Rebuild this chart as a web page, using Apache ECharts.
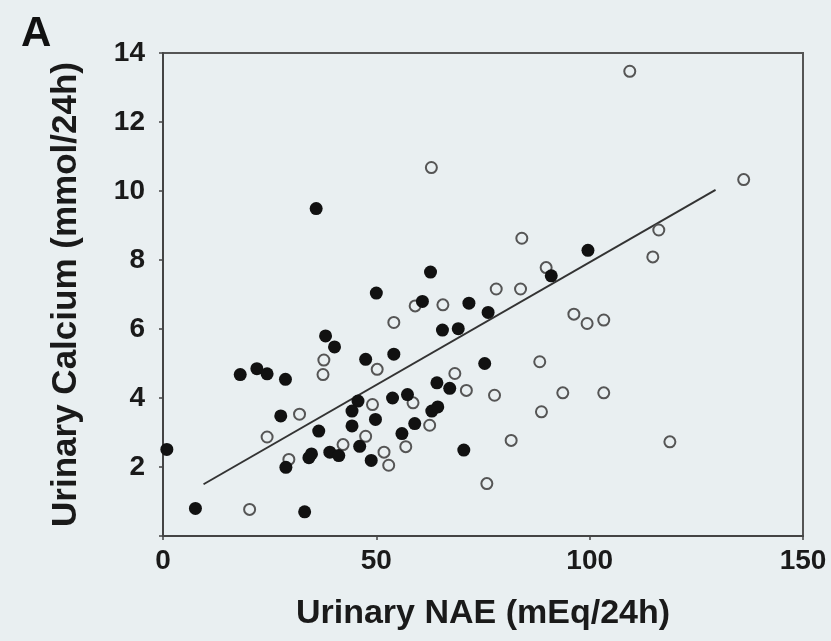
<!DOCTYPE html>
<html>
<head>
<meta charset="utf-8">
<script src="https://cdn.jsdelivr.net/npm/echarts@6/dist/echarts.min.js"></script>
<style>
html,body{margin:0;padding:0;background:#e9eff1;}
#chart{width:831px;height:641px;}
</style>
</head>
<body>
<div id="chart"></div>
<script>
// Filled circles: [Urinary NAE, Urinary Calcium]
const filledPoints = [
  [50.0,7.04],[60.8,6.80],[71.7,6.75],[76.2,6.48],[65.5,5.97],[69.2,6.01],[38.1,5.80],[40.2,5.48],
  [47.5,5.12],[54.1,5.27],[75.4,5.00],[18.1,4.68],[22.0,4.85],[24.4,4.70],[28.7,4.54],[64.2,4.44],
  [67.2,4.28],[45.7,3.91],[44.3,3.62],[53.8,4.00],[57.3,4.10],[63.0,3.62],[64.4,3.74],[27.6,3.48],
  [49.8,3.38],[44.3,3.19],[36.5,3.04],[59.0,3.26],[56.0,2.97],[46.1,2.60],[70.5,2.49],[0.9,2.51],
  [34.8,2.38],[34.2,2.27],[39.1,2.43],[41.2,2.33],[48.8,2.19],[28.8,1.99],[7.6,0.80],[33.2,0.70],
  [35.9,9.49],[62.7,7.65],[99.6,8.28],[91.0,7.54]
];
// Open circles
const openPoints = [
  [109.4,13.47],[62.9,10.68],[136.1,10.33],[116.2,8.87],[84.1,8.63],[114.8,8.09],[89.8,7.78],
  [78.1,7.16],[83.8,7.16],[59.1,6.67],[65.6,6.70],[96.3,6.43],[99.4,6.16],[103.3,6.26],[54.1,6.19],
  [37.7,5.10],[37.5,4.68],[50.2,4.83],[68.4,4.71],[71.1,4.22],[88.3,5.05],[49.1,3.81],[58.6,3.86],
  [77.7,4.08],[93.7,4.15],[103.3,4.15],[88.7,3.60],[32.0,3.53],[62.5,3.21],[24.4,2.87],[47.5,2.89],
  [42.2,2.65],[56.9,2.59],[51.8,2.43],[52.9,2.05],[29.5,2.22],[81.6,2.77],[118.8,2.73],[75.9,1.52],
  [20.3,0.77]
];
// Regression line endpoints
const regX = [9.5, 129.5];
const regY = [1.50, 10.03];

const xTicks = [0, 50, 100, 150];
const yTicks = [2, 4, 6, 8, 10, 12, 14];

const chart = echarts.init(document.getElementById('chart'));
const FONT = '"Liberation Sans", Arial, sans-serif';
const bg = '#e9eff1';
chart.setOption({
  backgroundColor: bg,
  animation: false,
  grid: {left: 163, right: 28, top: 53, bottom: 105, show: true, borderColor: '#555', borderWidth: 2, backgroundColor: 'transparent'},
  graphic: [{
    type: 'text', left: 21, top: 13,
    style: {text: 'A', font: 'bold 42px ' + FONT, fill: '#111'}
  }],
  xAxis: {
    type: 'value', min: 0, max: 150, interval: 50,
    name: 'Urinary NAE (mEq/24h)', nameLocation: 'middle', nameGap: 61,
    nameTextStyle: {fontFamily: FONT, fontWeight: 'bold', fontSize: 34, color: '#1a1a1a'},
    axisLine: {show: true, lineStyle: {color: '#444', width: 2}},
    axisTick: {show: true, length: 4, lineStyle: {color: '#444', width: 1.5}},
    axisLabel: {margin: 11, fontFamily: FONT, fontWeight: 'bold', fontSize: 28, color: '#1a1a1a',
      formatter: v => xTicks.includes(v) ? String(v) : ''},
    splitLine: {show: false}
  },
  yAxis: {
    type: 'value', min: 0, max: 14, interval: 2,
    name: 'Urinary Calcium (mmol/24h)', nameLocation: 'middle', nameGap: 79,
    nameTextStyle: {fontFamily: FONT, fontWeight: 'bold', fontSize: 35, color: '#1a1a1a'},
    axisLine: {show: true, lineStyle: {color: '#444', width: 2}},
    axisTick: {show: true, length: 4, lineStyle: {color: '#444', width: 1.5}},
    axisLabel: {margin: 18, fontFamily: FONT, fontWeight: 'bold', fontSize: 28, color: '#1a1a1a',
      formatter: v => yTicks.includes(v) ? String(v) : ''},
    splitLine: {show: false}
  },
  series: [
    {
      type: 'line', data: regX.map((x, i) => [x, regY[i]]), symbol: 'none', z: 1,
      lineStyle: {color: '#333', width: 2}, silent: true
    },
    {
      type: 'scatter', data: openPoints, symbol: 'circle', symbolSize: 11, z: 2,
      itemStyle: {color: bg, borderColor: '#555', borderWidth: 2, opacity: 1}
    },
    {
      type: 'scatter', data: filledPoints, symbol: 'circle', symbolSize: 13, z: 3,
      itemStyle: {color: '#111', opacity: 1}
    }
  ]
});
</script>
</body>
</html>
